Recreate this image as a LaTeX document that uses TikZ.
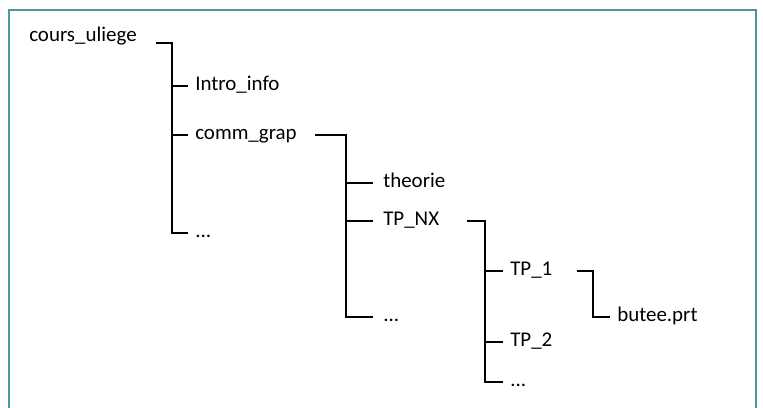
\documentclass[tikz,border=0pt]{standalone}
\usepackage{fontspec}
\usepackage{tikz}
\usetikzlibrary{positioning, calc}
\usepackage{xcolor}
\newfontfamily\treefont{Carlito}
\definecolor{cFrame}{HTML}{4A9A9D}

\begin{document}
\begin{tikzpicture}[
    item/.style={anchor=west, inner xsep=0.175cm, inner ysep=0pt,
                 text height=0.3675cm, text depth=0.1365cm,
                 font=\treefont\fontsize{14.9}{17}\selectfont},
    tree/.style={draw=black, line width=1pt},
]

\useasboundingbox (0,0) rectangle (19.075,-10.2);

% open frame (no bottom edge)
\draw[cFrame, line width=1.4pt] (0.225,-10.3) |- (18.9,-0.25) -- (18.9,-10.3);

% ================================================================
%  Folder entries
% ================================================================

\node[item] (root)   at (0.55,-0.93)   {cours\_uliege};

\node[item] (intro)  at (4.7,-2.15)    {Intro\_info};
\node[item] (comm)   at (4.7,-3.375)   {comm\_grap};
\node[item] (dotsA)  at (4.7,-5.825)   {...};

\node[item] (theo)   at (9.4,-4.575)   {theorie};
\node[item] (tpnx)   at (9.4,-5.525)   {TP\_NX};
\node[item] (dotsB)  at (9.4,-7.925)   {...};

\node[item] (tpone)  at (12.575,-6.775) {TP\_1};
\node[item] (tptwo)  at (12.575,-8.55)  {TP\_2};
\node[item] (dotsC)  at (12.575,-9.55)  {...};

\node[item] (butee)  at (15.25,-7.925)  {butee.prt};

% ================================================================
%  Tree connectors
% ================================================================

% cours_uliege
\draw[tree] ([xshift=0.3cm, yshift=-0.15cm]root.east) -| ([xshift=-0.4cm]dotsA.west) -- (dotsA.west);
\draw[tree] ([xshift=-0.4cm]intro.west) -- (intro.west);
\draw[tree] ([xshift=-0.4cm]comm.west) -- (comm.west);

% comm_grap
\draw[tree] ([xshift=0.275cm]comm.east) -| ([xshift=-0.75cm]dotsB.west) -- ([xshift=-0.075cm]dotsB.west);
\draw[tree] ([xshift=-0.75cm]theo.west) -- ([xshift=-0.075cm]theo.west);
\draw[tree] ([xshift=-0.75cm]tpnx.west) -- ([xshift=-0.075cm]tpnx.west);

% TP_NX
\draw[tree] ([xshift=0.525cm]tpnx.east) -| ([xshift=-0.45cm]dotsC.west) -- (dotsC.west);
\draw[tree] ([xshift=-0.45cm]tpone.west) -- (tpone.west);
\draw[tree] ([xshift=-0.45cm]tptwo.west) -- (tptwo.west);

% TP_1
\draw[tree] ([xshift=0.425cm]tpone.east) -| ([xshift=-0.425cm]butee.west) -- (butee.west);

\end{tikzpicture}
\end{document}
